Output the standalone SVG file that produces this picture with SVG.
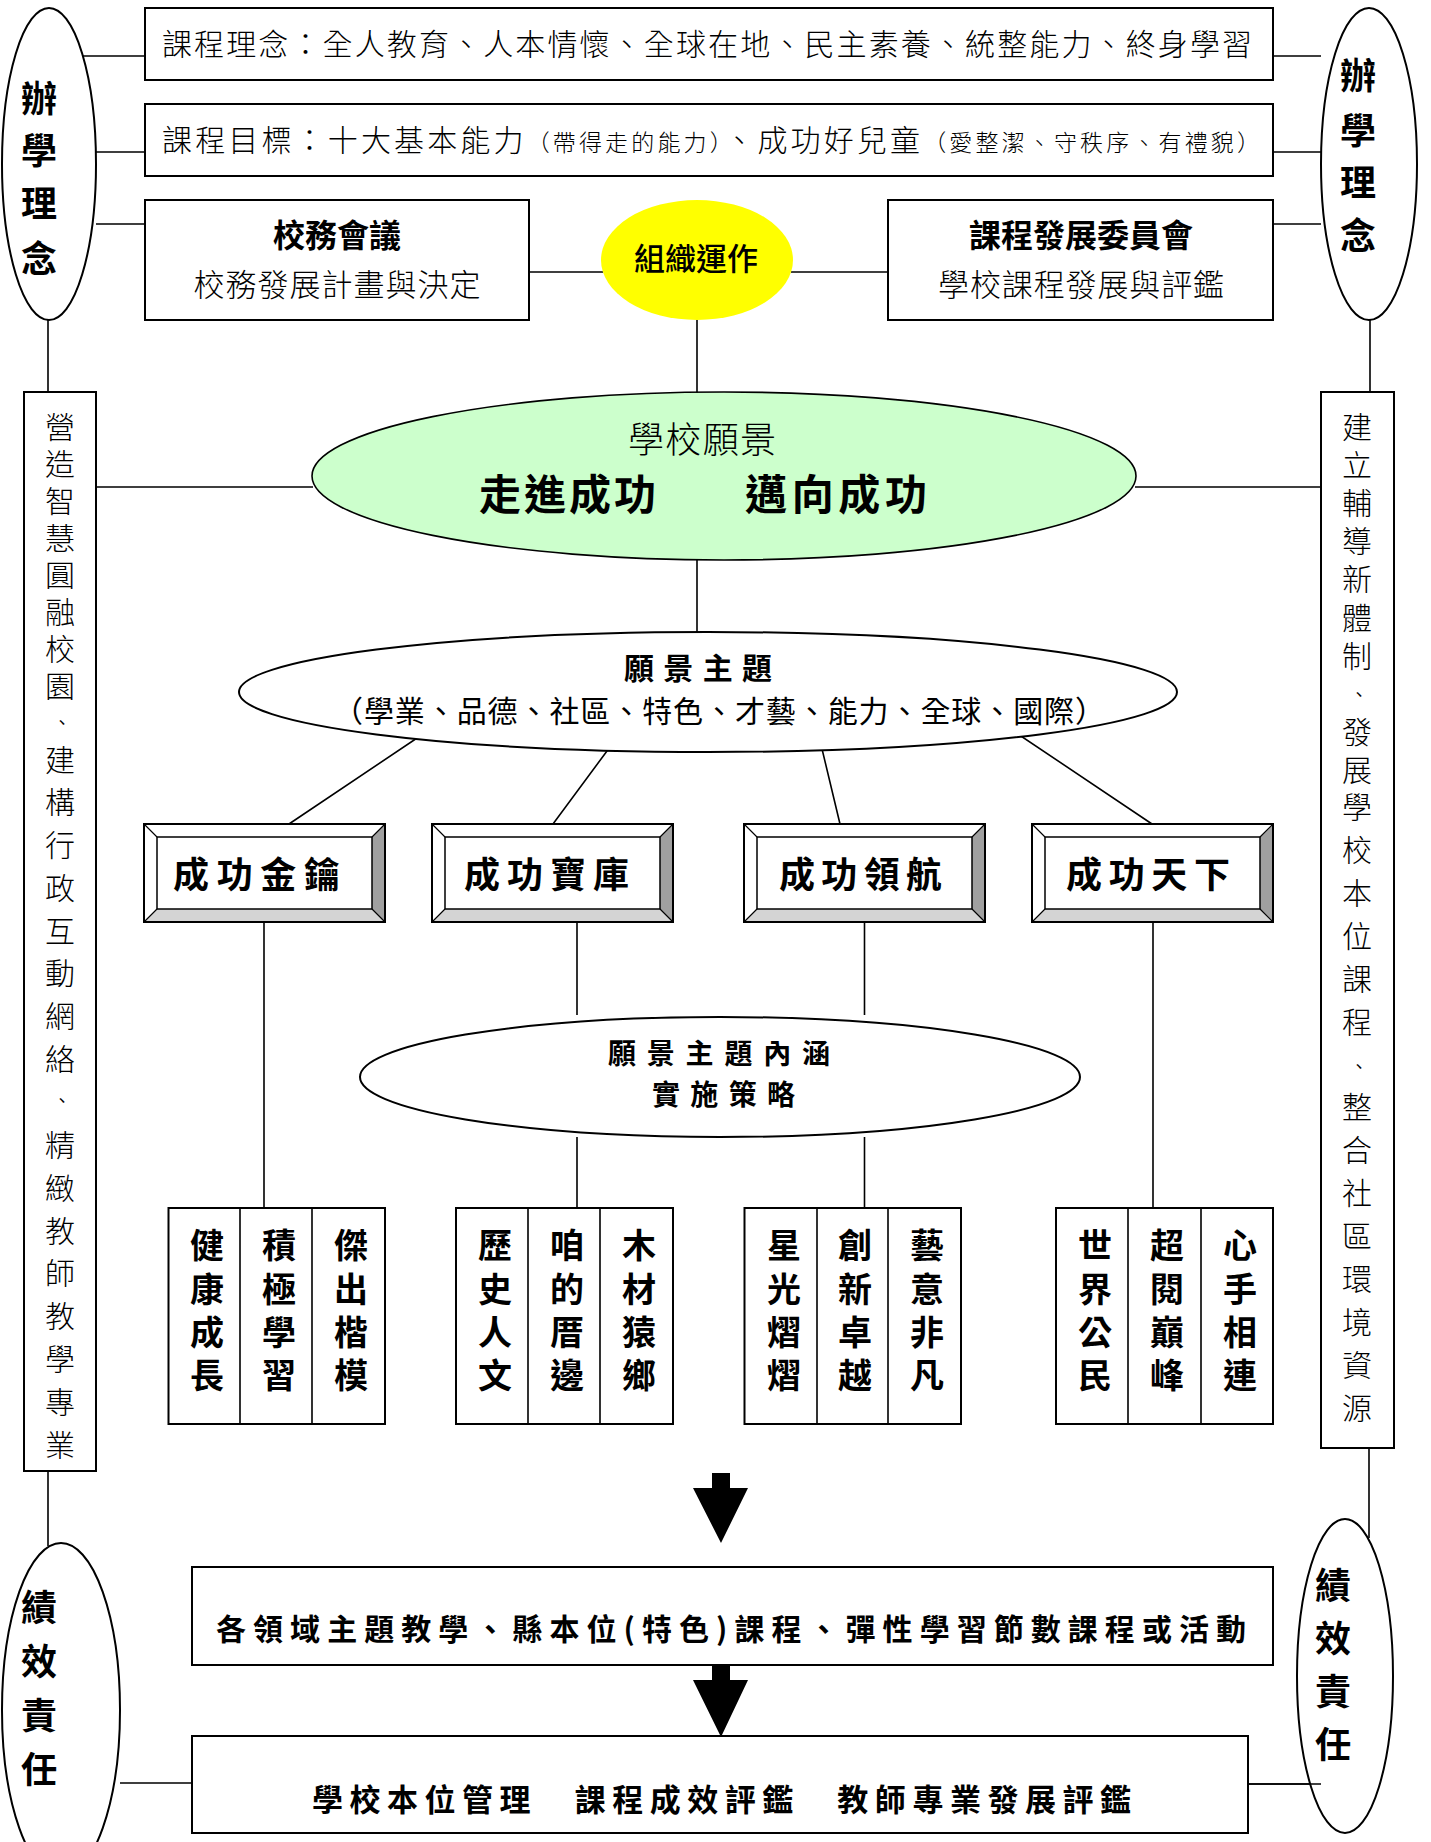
<svg xmlns="http://www.w3.org/2000/svg" xmlns:xlink="http://www.w3.org/1999/xlink" width="1431" height="1842" viewBox="0 0 1431 1842">
<style>
.ln{stroke:#000;stroke-width:1.6;fill:none}
.bx{fill:#fff;stroke:#000;stroke-width:2}
.t{font-family:"Noto Sans CJK TC","Noto Sans CJK SC",sans-serif;fill:#000}
.b{font-weight:700}
.l{font-weight:300}
.m{text-anchor:middle}
.v{font-size:30px;font-weight:300;text-anchor:middle}
.d{font-size:18px;font-weight:400;text-anchor:middle}
.c{font-size:34px;font-weight:700;text-anchor:middle}
</style>
<defs>
<g id="bev">
<rect x="0" y="0" width="241" height="98" fill="#fff"/>
<polygon points="241,0 241,98 228,85 228,13" fill="#a0a0a0"/>
<polygon points="0,98 241,98 228,85 13,85" fill="#d4d4d4"/>
<rect x="13" y="13" width="215" height="72" fill="#fff" stroke="#000" stroke-width="1.5"/>
<path d="M0,0 L13,13 M241,0 L228,13 M0,98 L13,85 M241,98 L228,85" stroke="#000" stroke-width="1.2"/>
<rect x="0" y="0" width="241" height="98" fill="none" stroke="#000" stroke-width="2"/>
</g>
</defs>
<rect width="1431" height="1842" fill="#fff"/>

<g id="connectors">
<path class="ln" d="M72,56 H145 M96,152 H145 M96,224 H145"/>
<path class="ln" d="M1273,56 H1321 M1273,152 H1321 M1273,224 H1321"/>
<path class="ln" d="M529,272 H603 M791,272 H888"/>
<path class="ln" d="M697,320 V393 M697,560 V632"/>
<path class="ln" d="M48,320 V392 M1370,320 V392"/>
<path class="ln" d="M96,487 H313 M1135,487 H1321"/>
<path class="ln" d="M432,728 L289,824 M624,728 L553,824 M817,728 L840,824 M1009,728 L1152,824"/>
<path class="ln" d="M264,922 V1208 M577,922 V1015 M577,1137 V1208 M864.5,922 V1015 M864.5,1137 V1208 M1153,922 V1208"/>
<path class="ln" d="M48,1471 V1546 M1369,1448 V1538"/>
<path class="ln" d="M120,1783 H192 M1248,1784 H1321"/>
<polygon points="712,1473 730,1473 730,1488 748,1488 721,1543 693,1488 712,1488" fill="#000"/>
<polygon points="712,1665 730,1665 730,1680 748,1680 721,1737 693,1680 712,1680" fill="#000"/>
</g>

<g id="philosophy-left">
<ellipse cx="49" cy="164" rx="47" ry="156" class="bx" stroke-width="1.6"/>
<text class="t b m" font-size="36" x="39 39 39 39" y="112 164 217 272">辦學理念</text>
</g>
<g id="philosophy-right">
<ellipse cx="1369" cy="164" rx="48" ry="156" class="bx" stroke-width="1.6"/>
<text class="t b m" font-size="36" x="1358 1358 1358 1358" y="89 144 196 249">辦學理念</text>
</g>

<g id="concept">
<rect x="145" y="8" width="1128" height="72" class="bx"/>
<text class="t l" font-size="30" x="162" y="55" textLength="1090" lengthAdjust="spacing">課程理念：全人教育、人本情懷、全球在地、民主素養、統整能力、終身學習</text>
</g>
<g id="goal">
<rect x="145" y="104" width="1128" height="72" class="bx"/>
<text class="t l" font-size="30" x="162" y="151" textLength="1098" lengthAdjust="spacing">課程目標：十大基本能力<tspan font-size="23">（帶得走的能力）</tspan>、成功好兒童<tspan font-size="23">（愛整潔、守秩序、有禮貌）</tspan></text>
</g>

<g id="school-affairs">
<rect x="145" y="200" width="384" height="120" class="bx"/>
<text class="t b m" font-size="32" x="337" y="247">校務會議</text>
<text class="t l m" font-size="31" x="337" y="296" textLength="287" lengthAdjust="spacing">校務發展計畫與決定</text>
</g>
<g id="organization">
<ellipse cx="697" cy="260" rx="96" ry="60" fill="#ffff00"/>
<text class="t m" font-size="31" font-weight="500" x="696" y="270">組織運作</text>
</g>
<g id="curriculum-committee">
<rect x="888" y="200" width="385" height="120" class="bx"/>
<text class="t b m" font-size="32" x="1081" y="247">課程發展委員會</text>
<text class="t l m" font-size="31" x="1081" y="296" textLength="286" lengthAdjust="spacing">學校課程發展與評鑑</text>
</g>

<g id="left-strategy">
<rect x="24" y="392" width="72" height="1079" class="bx"/>
<text class="t v" x="60 60 60 60 60 60 60 60" y="438 475 512 549 586 623 660 697">營造智慧圓融校園</text>
<text class="t d" x="62" y="729">、</text>
<text class="t v" x="60 60 60 60 60 60 60 60" y="771 813 856 899 942 984 1027 1070">建構行政互動網絡</text>
<text class="t d" x="62" y="1107">、</text>
<text class="t v" x="60 60 60 60 60 60 60 60" y="1156 1199 1242 1284 1327 1370 1413 1456">精緻教師教學專業</text>
</g>
<g id="right-strategy">
<rect x="1321" y="392" width="73" height="1056" class="bx"/>
<text class="t v" x="1357 1357 1357 1357 1357 1357 1357" y="438 476 514 552 590 629 667">建立輔導新體制</text>
<text class="t d" x="1359" y="701">、</text>
<text class="t v" x="1357 1357 1357 1357 1357 1357 1357 1357" y="743 781 818 861 904 947 990 1033">發展學校本位課程</text>
<text class="t d" x="1359" y="1073">、</text>
<text class="t v" x="1357 1357 1357 1357 1357 1357 1357 1357" y="1118 1161 1204 1247 1290 1333 1376 1419">整合社區環境資源</text>
</g>

<g id="vision">
<ellipse cx="724" cy="476" rx="412" ry="84" fill="#ccffcc" stroke="#000" stroke-width="1.6"/>
<text class="t l m" font-size="36" fill="#333" x="702" y="453" textLength="148" lengthAdjust="spacing">學校願景</text>
<text class="t b" font-size="42" x="479" y="510" textLength="177" lengthAdjust="spacing">走進成功</text>
<text class="t b" font-size="42" x="745" y="510" textLength="182" lengthAdjust="spacing">邁向成功</text>
</g>

<g id="vision-themes">
<ellipse cx="708" cy="692" rx="469" ry="60" class="bx" stroke-width="1.6"/>
<text class="t b" font-size="30" x="624" y="679" textLength="148" lengthAdjust="spacing">願景主題</text>
<text class="t" font-size="30" x="333" y="722" textLength="772" lengthAdjust="spacing">（學業、品德、社區、特色、才藝、能力、全球、國際）</text>
</g>

<g id="golden-key">
<use xlink:href="#bev" href="#bev" transform="translate(144,824)"/>
<text class="t b" font-size="36" x="173" y="888" textLength="167" lengthAdjust="spacing">成功金鑰</text>
</g>
<g id="treasure">
<use xlink:href="#bev" href="#bev" transform="translate(432,824)"/>
<text class="t b" font-size="36" x="464" y="888" textLength="165" lengthAdjust="spacing">成功寶庫</text>
</g>
<g id="navigation">
<use xlink:href="#bev" href="#bev" transform="translate(744,824)"/>
<text class="t b" font-size="36" x="779" y="888" textLength="163" lengthAdjust="spacing">成功領航</text>
</g>
<g id="world">
<use xlink:href="#bev" href="#bev" transform="translate(1032,824)"/>
<text class="t b" font-size="36" x="1066" y="888" textLength="164" lengthAdjust="spacing">成功天下</text>
</g>

<g id="strategy">
<ellipse cx="720" cy="1077" rx="360" ry="60" class="bx" stroke-width="1.6"/>
<text class="t b" font-size="28" x="608" y="1064" textLength="222" lengthAdjust="spacing">願景主題內涵</text>
<text class="t b" font-size="28" x="652" y="1105" textLength="143" lengthAdjust="spacing">實施策略</text>
</g>

<g id="group-key">
<rect x="168.5" y="1208" width="216.5" height="216" class="bx"/>
<path class="ln" stroke-width="2" d="M240,1208 V1424 M312,1208 V1424"/>
<text class="t c" x="207 207 207 207" y="1258 1302 1345 1388">健康成長</text>
<text class="t c" x="279 279 279 279" y="1258 1302 1345 1388">積極學習</text>
<text class="t c" x="351 351 351 351" y="1258 1302 1345 1388">傑出楷模</text>
</g>
<g id="group-treasure">
<rect x="456" y="1208" width="217" height="216" class="bx"/>
<path class="ln" stroke-width="2" d="M528,1208 V1424 M600,1208 V1424"/>
<text class="t c" x="495 495 495 495" y="1258 1302 1345 1388">歷史人文</text>
<text class="t c" x="567 567 567 567" y="1258 1302 1345 1388">咱的厝邊</text>
<text class="t c" x="639 639 639 639" y="1258 1302 1345 1388">木材猿鄉</text>
</g>
<g id="group-navigation">
<rect x="744.5" y="1208" width="216.5" height="216" class="bx"/>
<path class="ln" stroke-width="2" d="M817,1208 V1424 M888,1208 V1424"/>
<text class="t c" x="784 784 784 784" y="1258 1302 1345 1388">星光熠熠</text>
<text class="t c" x="855 855 855 855" y="1258 1302 1345 1388">創新卓越</text>
<text class="t c" x="927 927 927 927" y="1258 1302 1345 1388">藝意非凡</text>
</g>
<g id="group-world">
<rect x="1056" y="1208" width="217" height="216" class="bx"/>
<path class="ln" stroke-width="2" d="M1128,1208 V1424 M1201,1208 V1424"/>
<text class="t c" x="1095 1095 1095 1095" y="1258 1302 1345 1388">世界公民</text>
<text class="t c" x="1167 1167 1167 1167" y="1258 1302 1345 1388">超閱巔峰</text>
<text class="t c" x="1240 1240 1240 1240" y="1258 1302 1345 1388">心手相連</text>
</g>

<g id="courses">
<rect x="192" y="1567" width="1081" height="98" class="bx"/>
<text class="t b" font-size="30" x="216" y="1640" textLength="1030" lengthAdjust="spacing">各領域主題教學、縣本位(特色)課程、彈性學習節數課程或活動</text>
</g>
<g id="evaluation">
<rect x="192" y="1736" width="1056" height="97" class="bx"/>
<text class="t b" font-size="31" x="312" y="1811" textLength="819" lengthAdjust="spacing">學校本位管理　課程成效評鑑　教師專業發展評鑑</text>
</g>

<g id="accountability-left">
<ellipse cx="61" cy="1710" rx="59" ry="167" class="bx" stroke-width="1.6"/>
<text class="t m" font-size="36" font-weight="600" x="39 39 39 39" y="1621 1675 1729 1783">績效責任</text>
</g>
<g id="accountability-right">
<ellipse cx="1345" cy="1676" rx="48" ry="157" class="bx" stroke-width="1.6"/>
<text class="t m" font-size="36" font-weight="600" x="1333 1333 1333 1333" y="1599 1652 1705 1758">績效責任</text>
</g>
<path class="ln" d="M1248,1784 H1321"/>
</svg>
